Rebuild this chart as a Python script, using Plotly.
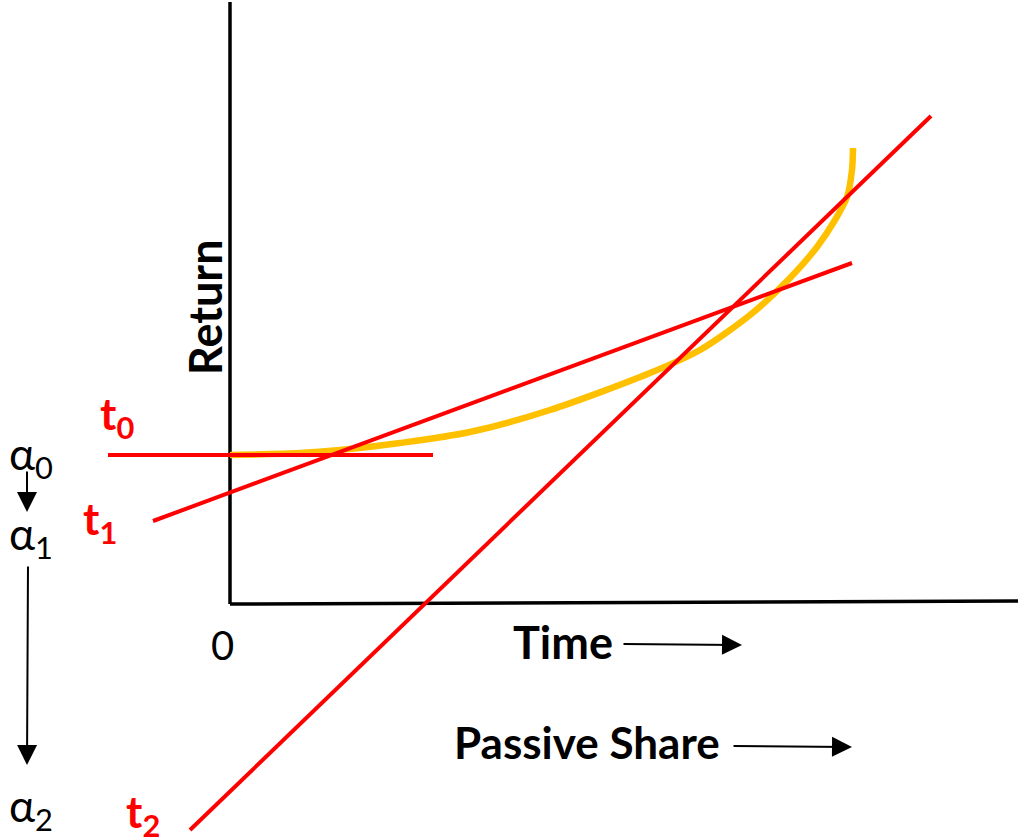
import plotly.graph_objects as go

# Coordinates: origin at the axes corner, 1 unit ~ 1 px
curve_x = [0, 70, 110, 170, 240, 320, 420, 470, 520, 560, 587, 605, 617, 622, 623]
curve_y = [149, 151, 154, 161, 172, 194, 231, 254, 289, 326, 357, 384, 407, 434, 456]

t0_x = [-122, 203]
t0_y = [149, 149]
t1_x = [-77, 622]
t1_y = [83, 341]
t2_x = [-40, 701]
t2_y = [-226, 488]

axis_v_x = [0, 0]
axis_v_y = [0, 602]
axis_h_x = [0, 788]
axis_h_y = [0, 3]

RED = "#FF0000"
GOLD = "#FFC000"
FONT = "Lato"

fig = go.Figure()
fig.add_trace(go.Scatter(x=axis_v_x, y=axis_v_y, mode="lines",
                         line=dict(color="black", width=3.5), hoverinfo="skip"))
fig.add_trace(go.Scatter(x=axis_h_x, y=axis_h_y, mode="lines",
                         line=dict(color="black", width=3.5), hoverinfo="skip"))
fig.add_trace(go.Scatter(x=curve_x, y=curve_y, mode="lines",
                         line=dict(color=GOLD, width=6.5, shape="spline", smoothing=0.8),
                         hoverinfo="skip"))
for lx, ly in [(t0_x, t0_y), (t1_x, t1_y), (t2_x, t2_y)]:
    fig.add_trace(go.Scatter(x=lx, y=ly, mode="lines",
                             line=dict(color=RED, width=4), hoverinfo="skip"))

def txt(x, y, s, size, color="black", bold=False, angle=0):
    fig.add_annotation(x=x, y=y, xref="x", yref="y", text=(f"<b>{s}</b>" if bold else s),
                       showarrow=False, textangle=angle,
                       font=dict(family=FONT, size=size, color=color))

def arrow(x0, y0, x1, y1):
    fig.add_annotation(x=x1, y=y1, ax=x0, ay=y0, xref="x", yref="y", axref="x", ayref="y",
                       text="", showarrow=True, arrowhead=2, arrowsize=2,
                       arrowwidth=2, arrowcolor="black")

# labels
txt(-113, 188, "t<sub>0</sub>", 44, RED, True)
txt(-130, 83, "t<sub>1</sub>", 44, RED, True)
txt(-87, -210, "t<sub>2</sub>", 44, RED, True)
txt(-199, 148, "α<sub>0</sub>", 44)
txt(-199, 68, "α<sub>1</sub>", 44)
txt(-199, -204, "α<sub>2</sub>", 44)
txt(-8, -41, "0", 40)
txt(-25, 297, "Return", 45, bold=True, angle=-90)
txt(333, -38, "Time", 45, bold=True)
txt(357, -138, "Passive Share", 44, bold=True)

arrow(-203, 134, -203, 92)
arrow(-202, 39, -203, -161)
arrow(392, -40, 512, -41)
arrow(502, -142, 622, -143)

fig.update_layout(
    width=1018, height=839, margin=dict(l=0, r=0, t=0, b=0),
    paper_bgcolor="white", plot_bgcolor="white", showlegend=False,
    xaxis=dict(range=[-230, 788], visible=False, fixedrange=True),
    yaxis=dict(range=[-235, 604], visible=False, fixedrange=True),
)
fig.write_html("out.html", config={"displayModeBar": False},
               post_script="document.body.style.margin='0';")
